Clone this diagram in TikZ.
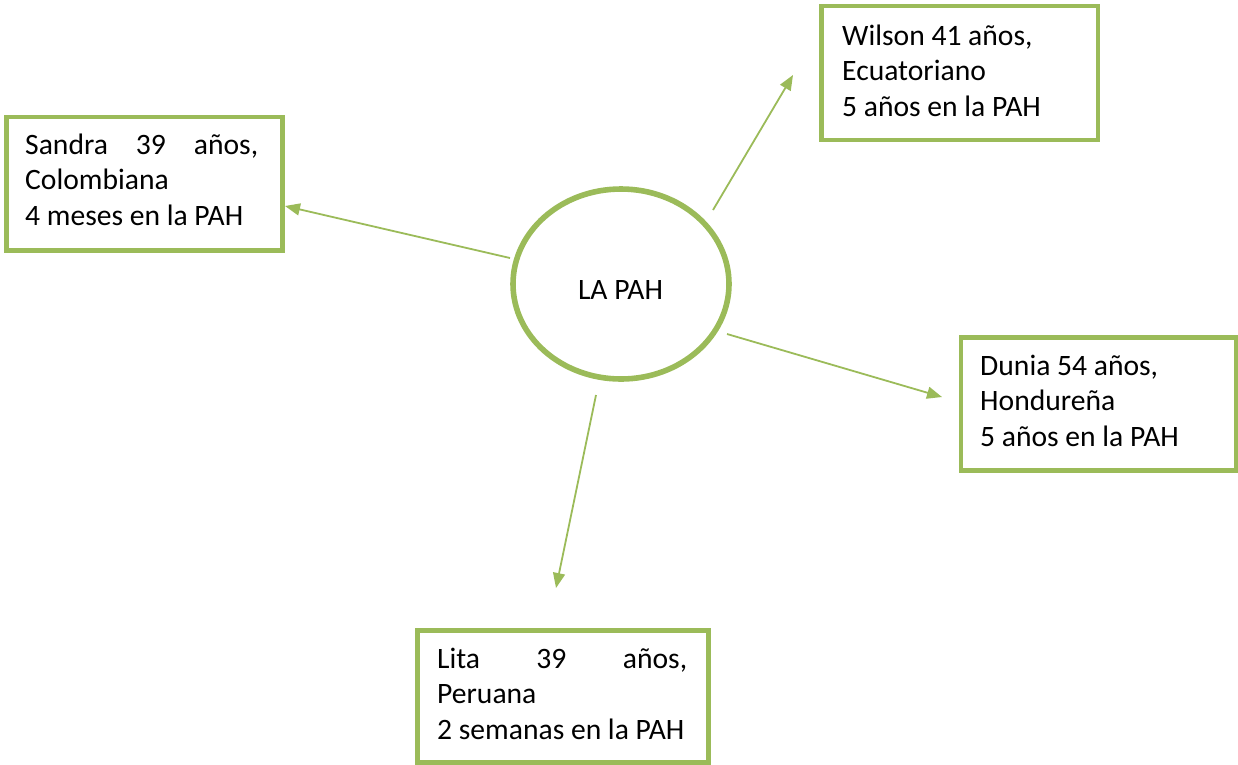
\documentclass[tikz,border=0pt]{standalone}
\usepackage{fontspec}
\setmainfont{Carlito}
\usetikzlibrary{arrows.meta,shapes.geometric}
\definecolor{pahgreen}{HTML}{9BBB59}
\begin{document}
\begin{tikzpicture}[x=1pt,y=-1pt,
  box/.style={draw=pahgreen,line width=4.6pt,rectangle,inner sep=0pt,anchor=north west},
  txt/.style={anchor=base west,inner sep=0pt,align=left,font=\fontsize{29.6}{35.7}\selectfont},
  conn/.style={draw=pahgreen,line width=1.8pt,-{Triangle[length=15pt,width=12pt]}}]
\useasboundingbox (0,0) rectangle (1238,764);
% centre
\node[ellipse,draw=pahgreen,line width=5.6pt,minimum width=216pt,minimum height=190pt,inner sep=0pt] (pah) at (621,284) {};
\node[anchor=base,inner sep=0pt,font=\fontsize{29.6}{35.7}\selectfont] (pahtxt) at (620.5,299) {LA PAH};
% boxes (text anchored at the baseline of its last line)
\node[box,minimum width=276pt,minimum height=133.6pt] (sandra) at (4,114.7) {};
\node[txt] (sandratxt) at (25,225.6) {\hbox to 233pt{Sandra\hfill 39\hfill años,}\\Colombiana\\4 meses en la PAH};
\node[box,minimum width=276.5pt,minimum height=133.8pt] (wilson) at (819,3.7) {};
\node[txt] (wilsontxt) at (842,116.6) {Wilson 41 años,\\Ecuatoriano\\5 años en la PAH};
\node[box,minimum width=275.3pt,minimum height=133pt] (dunia) at (958.7,335.3) {};
\node[txt] (duniatxt) at (980,446.6) {Dunia 54 años,\\Hondureña\\5 años en la PAH};
\node[box,minimum width=291pt,minimum height=132pt] (lita) at (415,628) {};
\node[txt] (litatxt) at (437,739.4) {\hbox to 250pt{Lita\hfill 39\hfill años,}\\Peruana\\2 semanas en la PAH};
% connector end points
\coordinate (s0) at (510,258);
\coordinate (s1) at (285,206);
\coordinate (w0) at (713,210);
\coordinate (w1) at (793,75);
\coordinate (d0) at (727,334);
\coordinate (d1) at (942,397);
\coordinate (l0) at (596,395);
\coordinate (l1) at (556,588);
\draw[conn] (s0) -- (s1);
\draw[conn] (w0) -- (w1);
\draw[conn] (d0) -- (d1);
\draw[conn] (l0) -- (l1);
\end{tikzpicture}
\end{document}
